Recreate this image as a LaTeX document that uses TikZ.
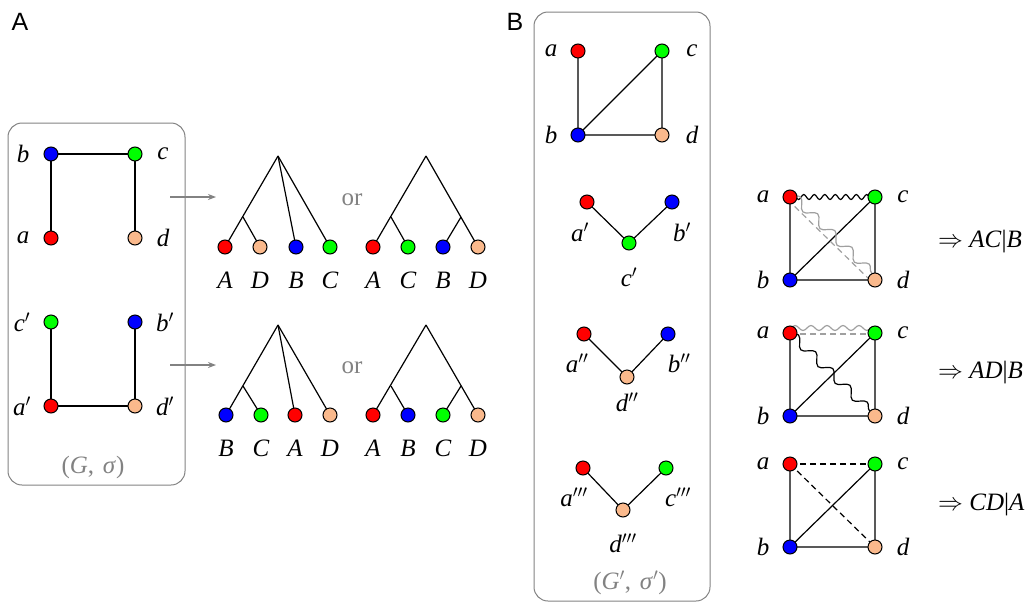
\documentclass[tikz,border=0pt]{standalone}
\usepackage{fontspec}
\setmainfont{Liberation Serif}
\newfontfamily\panelfont{Liberation Sans}
\usetikzlibrary{decorations.pathmorphing,backgrounds,arrows.meta}
\definecolor{vred}{RGB}{255,0,0}
\definecolor{vgreen}{RGB}{0,255,0}
\definecolor{vblue}{RGB}{0,0,255}
\definecolor{vpeach}{RGB}{250,185,140}
\definecolor{boxgray}{RGB}{130,130,130}
\definecolor{wgray}{RGB}{160,160,160}
\newcommand{\pr}{$'$}
\newcommand{\ppr}{$''$}
\newcommand{\pppr}{$'''$}
\begin{document}
\begin{tikzpicture}[x=1pt,y=-1pt,
  vtx/.style={circle,draw=black,line width=1pt,minimum size=14pt,inner sep=0pt},
  vR/.style={vtx,fill=vred},
  vG/.style={vtx,fill=vgreen},
  vB/.style={vtx,fill=vblue},
  vP/.style={vtx,fill=vpeach},
  lbl/.style={font=\fontsize{25}{29}\selectfont\itshape,inner sep=0pt},
  grl/.style={font=\fontsize{25}{29}\selectfont,text=boxgray,inner sep=0pt},
  panel/.style={font=\panelfont\fontsize{25}{29}\selectfont,inner sep=0pt},
  res/.style={font=\fontsize{25}{29}\selectfont,inner sep=0pt,anchor=west},
  edge/.style={line width=1.2pt,black},
  box/.style={draw=boxgray,line width=1pt,rounded corners=14pt},
  garrow/.style={draw=boxgray,line width=1.2pt,-{Stealth[length=8pt,width=6pt]}},
  wavyh/.style={decorate,decoration={snake,segment length=10.5pt,amplitude=2.5pt}},
  wavyg/.style={decorate,decoration={snake,segment length=16pt,amplitude=2.5pt}},
  wavyd/.style={decorate,decoration={snake,segment length=24pt,amplitude=4.5pt}},
  dsh/.style={dash pattern=on 6pt off 4pt}
]
\useasboundingbox (0,0) rectangle (1034,603);

% ---------------- Panel A ----------------
\node[panel] (pA) at (20,22) {A};
\draw[box] (8,123) rectangle (185,485);

\node[vB] (b1) at (51,154) {};
\node[vG] (c1) at (135,154) {};
\node[vR] (a1) at (51,238) {};
\node[vP] (d1) at (135,238) {};
\node[lbl] (lb1) at (23,154) {b};
\node[lbl] (lc1) at (163,154) {c};
\node[lbl] (la1) at (23,238) {a};
\node[lbl] (ld1) at (163,238) {d};

\node[vG] (c2) at (51,322) {};
\node[vB] (b2) at (135,322) {};
\node[vR] (a2) at (51,406) {};
\node[vP] (d2) at (135,406) {};
\node[lbl] (lc2) at (22,322) {c\pr};
\node[lbl] (lb2) at (165,322) {b\pr};
\node[lbl] (la2) at (22,406) {a\pr};
\node[lbl] (ld2) at (165,406) {d\pr};

\node[grl] (GS) at (93,467) {(\textit{G},\hspace{0.35em}\textit{σ})};

\coordinate (ar1s) at (170,197);
\coordinate (ar1e) at (216,197);
\coordinate (ar2s) at (170,365);
\coordinate (ar2e) at (216,365);
\draw[garrow] (ar1s) -- (ar1e);
\draw[garrow] (ar2s) -- (ar2e);

% trees row 1
\coordinate (t1r) at (278,156);
\coordinate (t1i) at (243,217);
\node[vR] (t1A) at (225,247) {};
\node[vP] (t1D) at (260,247) {};
\node[vB] (t1B) at (296,247) {};
\node[vG] (t1C) at (330,247) {};
\node[lbl] (t1lA) at (225,280) {A};
\node[lbl] (t1lD) at (260,280) {D};
\node[lbl] (t1lB) at (296,280) {B};
\node[lbl] (t1lC) at (330,280) {C};

\node[grl] (or1) at (352,200) {or};

\coordinate (t2r) at (426,156);
\coordinate (t2i) at (391,217);
\coordinate (t2j) at (461,217);
\node[vR] (t2A) at (373,247) {};
\node[vG] (t2C) at (408,247) {};
\node[vB] (t2B) at (443,247) {};
\node[vP] (t2D) at (478,247) {};
\node[lbl] (t2lA) at (373,280) {A};
\node[lbl] (t2lC) at (408,280) {C};
\node[lbl] (t2lB) at (443,280) {B};
\node[lbl] (t2lD) at (478,280) {D};

% trees row 2
\coordinate (t3r) at (278,325);
\coordinate (t3i) at (243,386);
\node[vB] (t3B) at (226,415) {};
\node[vG] (t3C) at (261,415) {};
\node[vR] (t3A) at (295,415) {};
\node[vP] (t3D) at (330,415) {};
\node[lbl] (t3lB) at (226,448) {B};
\node[lbl] (t3lC) at (261,448) {C};
\node[lbl] (t3lA) at (295,448) {A};
\node[lbl] (t3lD) at (330,448) {D};

\node[grl] (or2) at (352,368) {or};

\coordinate (t4r) at (426,325);
\coordinate (t4i) at (391,386);
\coordinate (t4j) at (461,386);
\node[vR] (t4A) at (373,415) {};
\node[vB] (t4B) at (408,415) {};
\node[vG] (t4C) at (443,415) {};
\node[vP] (t4D) at (478,415) {};
\node[lbl] (t4lA) at (373,448) {A};
\node[lbl] (t4lB) at (408,448) {B};
\node[lbl] (t4lC) at (443,448) {C};
\node[lbl] (t4lD) at (478,448) {D};

% ---------------- Panel B ----------------
\node[panel] (pB) at (515,22) {B};
\draw[box] (534,12) rectangle (710,601);

\node[vR] (ga) at (578,51) {};
\node[vG] (gc) at (662,51) {};
\node[vB] (gb) at (578,135) {};
\node[vP] (gd) at (662,135) {};
\node[lbl] (lga) at (551,51) {a};
\node[lbl] (lgc) at (692,51) {c};
\node[lbl] (lgb) at (551,135) {b};
\node[lbl] (lgd) at (692,135) {d};

\node[vR] (h1a) at (587,202) {};
\node[vB] (h1b) at (672,202) {};
\node[vG] (h1c) at (629,243) {};
\node[lbl] (lh1a) at (580,232) {a\pr};
\node[lbl] (lh1b) at (682,232) {b\pr};
\node[lbl] (lh1c) at (629,277) {c\pr};

\node[vR] (h2a) at (584,334) {};
\node[vB] (h2b) at (668,334) {};
\node[vP] (h2d) at (627,377) {};
\node[lbl] (lh2a) at (577,363) {a\ppr};
\node[lbl] (lh2b) at (679,363) {b\ppr};
\node[lbl] (lh2d) at (627,402) {d\ppr};

\node[vR] (h3a) at (583,468) {};
\node[vG] (h3c) at (666,468) {};
\node[vP] (h3d) at (623,510) {};
\node[lbl] (lh3a) at (574,497) {a\pppr};
\node[lbl] (lh3c) at (678,497) {c\pppr};
\node[lbl] (lh3d) at (623,543) {d\pppr};

\node[grl] (GS2) at (630,583) {(\textit{G}\pr,\hspace{0.35em}\textit{σ}\pr)};

% squares
\foreach \k/\yt/\yb in {1/197/280, 2/333/416, 3/464/547}{
  \node[vR] (s\k a) at (790,\yt) {};
  \node[vG] (s\k c) at (875,\yt) {};
  \node[vB] (s\k b) at (790,\yb) {};
  \node[vP] (s\k d) at (875,\yb) {};
  \node[lbl] (ls\k a) at (763,\yt) {a};
  \node[lbl] (ls\k c) at (903,\yt) {c};
  \node[lbl] (ls\k b) at (763,\yb) {b};
  \node[lbl] (ls\k d) at (903,\yb) {d};
}
\node[res] (r1) at (938,242) {$\Rightarrow$ \textit{AC}|\textit{B}};
\node[res] (r2) at (938,373) {$\Rightarrow$ \textit{AD}|\textit{B}};
\node[res] (r3) at (938,505) {$\Rightarrow$ \textit{CD}|\textit{A}};

% ---------------- edges (behind vertices) ----------------
\begin{pgfonlayer}{background}
\draw[edge] (b1.center) -- (c1.center);
\draw[edge] (b1.center) -- (a1.center);
\draw[edge] (c1.center) -- (d1.center);
\draw[edge] (c2.center) -- (a2.center);
\draw[edge] (b2.center) -- (d2.center);
\draw[edge] (a2.center) -- (d2.center);

\draw[edge] (t1r) -- (t1A.center);
\draw[edge] (t1i) -- (t1D.center);
\draw[edge] (t1r) -- (t1B.center);
\draw[edge] (t1r) -- (t1C.center);
\draw[edge] (t2r) -- (t2A.center);
\draw[edge] (t2i) -- (t2C.center);
\draw[edge] (t2r) -- (t2D.center);
\draw[edge] (t2j) -- (t2B.center);
\draw[edge] (t3r) -- (t3B.center);
\draw[edge] (t3i) -- (t3C.center);
\draw[edge] (t3r) -- (t3A.center);
\draw[edge] (t3r) -- (t3D.center);
\draw[edge] (t4r) -- (t4A.center);
\draw[edge] (t4i) -- (t4B.center);
\draw[edge] (t4r) -- (t4D.center);
\draw[edge] (t4j) -- (t4C.center);

\draw[edge] (ga.center) -- (gb.center) -- (gd.center) -- (gc.center) -- (gb.center);
\draw[edge] (h1a.center) -- (h1c.center) -- (h1b.center);
\draw[edge] (h2a.center) -- (h2d.center) -- (h2b.center);
\draw[edge] (h3a.center) -- (h3d.center) -- (h3c.center);

\foreach \k in {1,2,3}{
  \draw[edge] (s\k a.center) -- (s\k b.center) -- (s\k d.center) -- (s\k c.center) -- (s\k b.center);
}
% square 1
\draw[edge,wavyh] (s1a.center) -- (s1c.center);
\draw[wgray,line width=1.2pt,dsh] ([xshift=-2.5pt,yshift=-2.5pt]s1a.center) -- ([xshift=-2.5pt,yshift=-2.5pt]s1d.center);
\draw[wgray,line width=1.2pt,wavyd] ([xshift=2pt,yshift=2pt]s1a.center) -- ([xshift=2pt,yshift=2pt]s1d.center);
% square 2
\draw[wgray,line width=1.2pt,dsh] ([yshift=-1pt]s2a.center) -- ([yshift=-1pt]s2c.center);
\draw[wgray,line width=1.2pt,wavyg] ([yshift=5pt]s2a.center) -- ([yshift=5pt]s2c.center);
\draw[edge,wavyd] (s2a.center) -- (s2d.center);
% square 3
\draw[edge,dsh] (s3a.center) -- (s3c.center);
\draw[edge,dsh] (s3a.center) -- (s3d.center);
\end{pgfonlayer}
\end{tikzpicture}
\end{document}
